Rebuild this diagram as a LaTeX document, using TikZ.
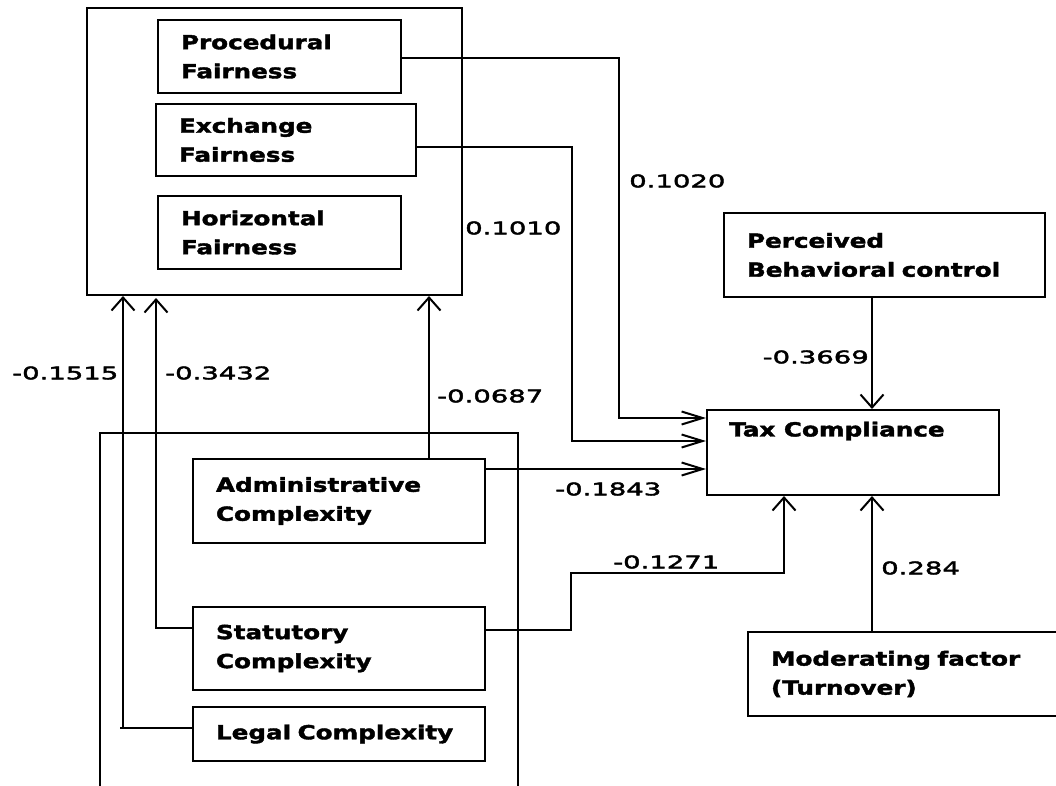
\documentclass[tikz,border=0pt]{standalone}
\usepackage{fontspec}
\usetikzlibrary{arrows.meta}
\newfontfamily\boxfont[FakeStretch=1.27,FakeBold=2]{DejaVu Sans}
\newfontfamily\numfont[FakeStretch=1.58,FakeBold=2.5]{DejaVu Sans}
\begin{document}
\begin{tikzpicture}[x=1pt,y=-1pt,
  ln/.style={line width=2pt},
  bx/.style={draw, line width=2pt, rectangle, inner ysep=0pt, inner xsep=23pt, align=left,
    font=\boxfont\bfseries\fontsize{19.4}{29}\selectfont},
  frame/.style={draw, line width=2pt, rectangle, inner sep=0pt},
  num/.style={font=\numfont\fontsize{17.4}{20}\selectfont, inner sep=0pt, anchor=west},
  varr/.style={ln,-{Straight Barb[length=13pt,width=23pt]}},
  harr/.style={ln,-{Straight Barb[length=21pt,width=13pt]}}]
\useasboundingbox (0,0) rectangle (1056,785);
\clip (0,0) rectangle (1056,785);

% frames
\node[frame, minimum width=375pt, minimum height=287pt] (fair) at (274.5,151.5) {};
\node[frame, minimum width=418pt, minimum height=367pt] (compl) at (309,616.5) {};

% fairness boxes
\node[bx, minimum width=243pt, minimum height=73pt, text width=197pt] (proc) at (279.5,56.5) {Procedural\\Fairness};
\node[bx, minimum width=260pt, minimum height=72pt, text width=214pt] (exch) at (286,140) {Exchange\\Fairness};
\node[bx, minimum width=243pt, minimum height=73pt, text width=197pt] (horiz) at (279.5,232.5) {Horizontal\\Fairness};

% complexity boxes
\node[bx, minimum width=292pt, minimum height=84pt, text width=246pt] (admin) at (339,501) {Administrative\\Complexity};
\node[bx, minimum width=292pt, minimum height=83pt, text width=246pt] (stat) at (339,648.5) {Statutory\\Complexity};
\node[bx, minimum width=292pt, minimum height=54pt, text width=246pt] (legal) at (339,734) {Legal Complexity};

% right side boxes
\node[bx, minimum width=321pt, minimum height=84pt, text width=275pt] (perc) at (884.5,255) {Perceived\\Behavioral control};
\node[bx, minimum width=292pt, minimum height=85pt, text width=246pt,
  label={[font=\boxfont\bfseries\fontsize{19.4}{29}\selectfont, anchor=north west, inner sep=0pt, xshift=23pt, yshift=-12.5pt]north west:Tax Compliance}] (tax) at (853,452.5) {};
\node[bx, minimum width=342pt, minimum height=84pt, text width=296pt, inner xsep=21pt] (mod) at (919,674) {Moderating factor\\(Turnover)};

% connectors to Tax Compliance
\draw[harr] (proc.east |- 0,58) -- (619,58) -- (619,418) -- (tax.west |- 0,418);
\draw[harr] (exch.east |- 0,147) -- (572,147) -- (572,441) -- (tax.west |- 0,441);
\draw[harr] (admin.east |- 0,469) -- (tax.west |- 0,469);
\draw[varr] (stat.east |- 0,630) -- (571,630) -- (571,573) -- (784,573) -- (tax.south -| 784,0);
\draw[varr] (perc.south -| 872,0) -- (tax.north -| 872,0);
\draw[varr] (mod.north -| 872,0) -- (tax.south -| 872,0);

% connectors to fairness frame
\draw[varr] (admin.north -| 429,0) -- (fair.south -| 429,0);
\draw[varr] (stat.west |- 0,628) -- (156,628) -- (156,298);
\draw[ln] (legal.west |- 0,728) -- (120,728);
\draw[varr] (123,728) -- (fair.south -| 123,0);

% labels
\node[num] (l1) at (629,181) {0.1020};
\node[num] (l2) at (465,228) {0.1010};
\node[num, anchor=east] (l3) at (869,357) {-0.3669};
\node[num] (l4) at (437,396) {-0.0687};
\node[num] (l5) at (555,489) {-0.1843};
\node[num] (l6) at (613,562) {-0.1271};
\node[num] (l7) at (881,568) {0.284};
\node[num] (l8) at (12,373) {-0.1515};
\node[num] (l9) at (165,373) {-0.3432};
\end{tikzpicture}
\end{document}
